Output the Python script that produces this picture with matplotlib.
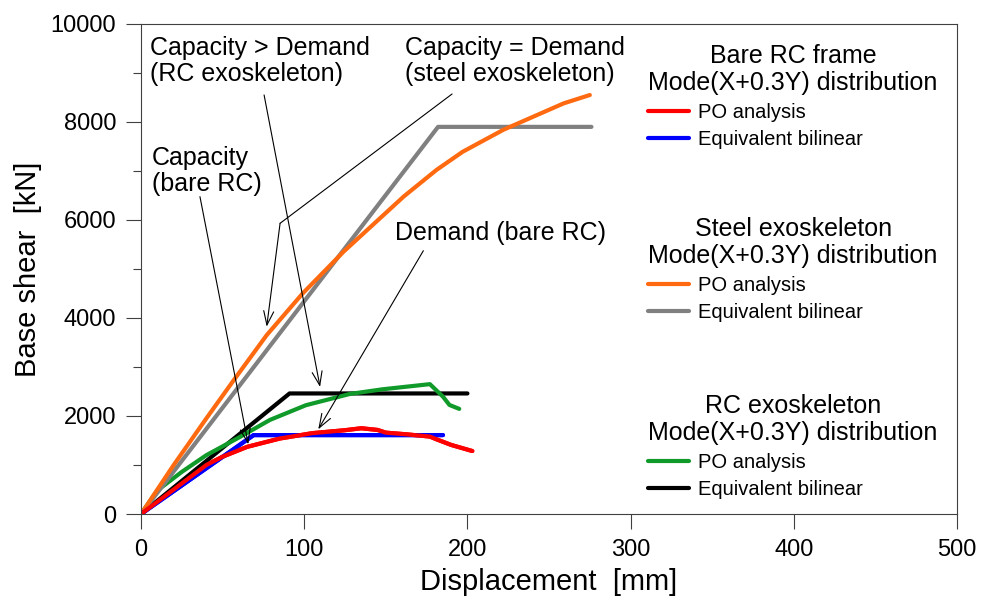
import matplotlib
matplotlib.use('Agg')

import matplotlib.pyplot as plt

plt.rcParams['font.family'] = ['Liberation Sans', 'DejaVu Sans']

# Bare RC frame
bare_po_x = [0, 10, 20, 30, 40, 50, 65, 85, 105, 125, 135, 145, 150, 163, 177, 181, 190, 203]
bare_po_y = [0, 250, 500, 750, 1000, 1170, 1370, 1540, 1650, 1710, 1750, 1715, 1660, 1625, 1580, 1525, 1410, 1285]
bare_bl_x = [0, 69, 185]
bare_bl_y = [0, 1610, 1610]

# Steel exoskeleton
steel_po_x = [0, 20, 40, 57, 77, 99, 124, 161, 181, 197, 222, 259, 275]
steel_po_y = [0, 1000, 1950, 2740, 3650, 4500, 5350, 6480, 7020, 7390, 7840, 8380, 8550]
steel_bl_x = [0, 182, 276]
steel_bl_y = [0, 7900, 7900]

# RC exoskeleton
rc_po_x = [0, 10, 25, 40, 61, 79, 101, 128, 148, 177, 185, 189, 195]
rc_po_y = [0, 480, 860, 1200, 1580, 1920, 2220, 2450, 2545, 2650, 2395, 2225, 2145]
rc_bl_x = [0, 91, 200]
rc_bl_y = [0, 2460, 2460]

LW = 3.0
ARROW = dict(arrowstyle='->,head_length=0.5,head_width=0.18', mutation_scale=20,
             lw=0.8, color='black', shrinkA=0, shrinkB=0)
LINE = dict(arrowstyle='-', lw=0.8, color='black', shrinkA=0, shrinkB=0)

fig = plt.figure(figsize=(9.87, 5.99), dpi=100)
ax = fig.add_axes([0.1429, 0.1419, 0.8267, 0.8181])

l_bare_po, = ax.plot(bare_po_x, bare_po_y, color='#ff0000', lw=LW, solid_capstyle='round')
l_bare_bl, = ax.plot(bare_bl_x, bare_bl_y, color='#0000ff', lw=LW, solid_capstyle='round')
l_rc_bl, = ax.plot(rc_bl_x, rc_bl_y, color='black', lw=LW, solid_capstyle='round')
l_rc_po, = ax.plot(rc_po_x, rc_po_y, color='#109a2a', lw=LW, solid_capstyle='round')
l_steel_bl, = ax.plot(steel_bl_x, steel_bl_y, color='#808080', lw=LW, solid_capstyle='round')
l_steel_po, = ax.plot(steel_po_x, steel_po_y, color='#ff6a10', lw=LW, solid_capstyle='round')
# redraw bare curves on top
ax.plot(bare_bl_x, bare_bl_y, color='#0000ff', lw=LW, solid_capstyle='round')
ax.plot(bare_po_x, bare_po_y, color='#ff0000', lw=LW, solid_capstyle='round')

ax.set_xlim(0, 500)
ax.set_ylim(0, 10000)
ax.set_xticks([0, 100, 200, 300, 400, 500])
ax.set_yticks([0, 2000, 4000, 6000, 8000, 10000])
ax.set_yticks([1000, 3000, 5000, 7000, 9000], minor=True)
ax.tick_params(axis='both', which='major', direction='out', length=11, width=0.8,
               color='#404040', labelsize=17, pad=7)
ax.tick_params(axis='y', which='minor', direction='out', length=6, width=0.8, color='#404040')
for s in ax.spines.values():
    s.set_linewidth(0.8)
    s.set_color('#404040')

ax.set_xlabel('Displacement  [mm]', fontsize=21, labelpad=5)
ax.set_ylabel('Base shear  [kN]', fontsize=21, labelpad=6)

# annotations
ax.text(5.5, 9245, 'Capacity > Demand\n(RC exoskeleton)', fontsize=18, va='center', ha='left', linespacing=1.1)
ax.text(161.8, 9245, 'Capacity = Demand\n(steel exoskeleton)', fontsize=18, va='center', ha='left', linespacing=1.1)
ax.text(6.7, 7000, 'Capacity\n(bare RC)', fontsize=18, va='center', ha='left', linespacing=1.1)
ax.text(155.6, 5735, 'Demand (bare RC)', fontsize=18, va='center', ha='left')

ax.annotate('', xy=(109.7, 2592), xytext=(75.4, 8551), arrowprops=ARROW)
ax.annotate('', xy=(85.2, 5932), xytext=(190.6, 8571), arrowprops=LINE)
ax.annotate('', xy=(77, 3823), xytext=(85.2, 5932), arrowprops=ARROW)
ax.annotate('', xy=(65.7, 1422), xytext=(36.1, 6476), arrowprops=ARROW)
ax.annotate('', xy=(108.6, 1728), xytext=(173, 5373), arrowprops=ARROW)

# legends
groups = [
    ('Bare RC frame', [l_bare_po, l_bare_bl], 0.927),
    ('Steel exoskeleton', [l_steel_po, l_steel_bl], 0.638),
    ('RC exoskeleton', [l_rc_po, l_rc_bl], 0.342),
]
for title, handles, ytop in groups:
    leg = fig.legend(handles, ['PO analysis', 'Equivalent bilinear'],
                     title=title + '\nMode(X+0.3Y) distribution',
                     loc='upper left', bbox_to_anchor=(0.657, ytop),
                     frameon=False, fontsize=14.5, title_fontsize=18,
                     handlelength=2.0, handletextpad=0.45, labelspacing=0.4,
                     borderpad=0, borderaxespad=0, alignment='left')
    leg.get_title().set_multialignment('center')
    leg.get_title().set_linespacing(1.15)
    for ln in leg.get_lines():
        ln.set_linewidth(3.0)

fig.savefig('out.png', dpi=100)
